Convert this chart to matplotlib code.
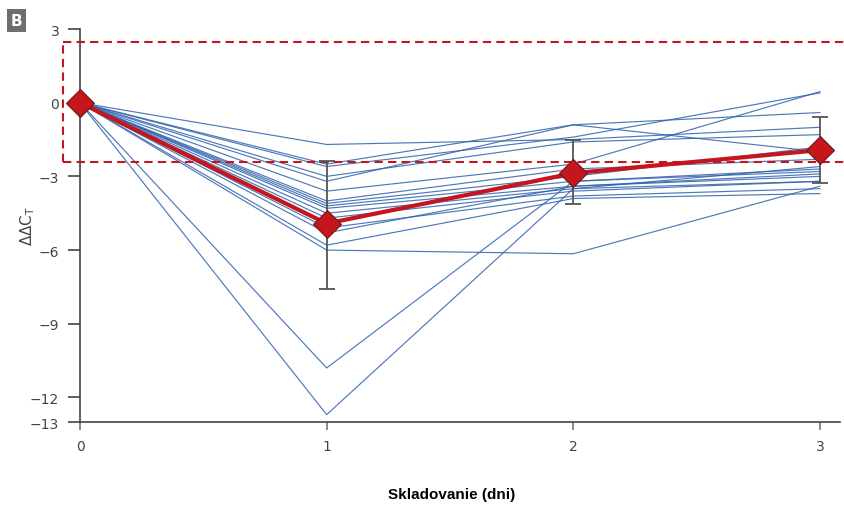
import numpy as np
import matplotlib

matplotlib.use('Agg')

import matplotlib.pyplot as plt

days = [0, 1, 2, 3]

# individual samples (ddCt at day 1, 2, 3; day 0 is always 0)
samples = [
    [-1.7, -1.5, -1.0],
    [-2.5, -0.9, -2.0],
    [-2.6, -1.4, 0.4],
    [-3.0, -1.6, -1.3],
    [-3.2, -0.9, -0.4],
    [-3.6, -2.5, 0.45],
    [-4.0, -2.7, -2.3],
    [-4.1, -3.0, -1.8],
    [-4.2, -3.2, -2.7],
    [-4.3, -3.4, -3.0],
    [-4.5, -3.5, -2.6],
    [-4.7, -3.6, -3.2],
    [-5.1, -3.8, -3.5],
    [-5.3, -3.4, -2.9],
    [-5.8, -3.9, -3.7],
    [-6.0, -6.15, -3.4],
    [-10.8, -3.2, -2.8],
    [-12.7, -3.5, -3.2],
]

mean_vals = [0, -4.92, -2.87, -1.93]
err_low = [0, -7.58, -4.14, -3.28]
err_high = [0, -2.38, -1.52, -0.57]

band = (-2.42, 2.46)

y_ticks = [3, 0, -3, -6, -9, -12, -13]

fig = plt.figure(figsize=(8.45, 5.06), dpi=100)
ax = fig.add_axes([0.0947, 0.164, 0.899, 0.7767])

for s in samples:
    ax.plot(days, [0] + s, color='#2f62ad', linewidth=0.85, alpha=0.85, zorder=2)

# dashed band
x0 = -0.069
dash = (0, (4, 2.5))
ax.plot([x0, 3.2], [band[1], band[1]], color='#c4161c', linestyle=dash,
        linewidth=1.5, clip_on=False, zorder=3)
ax.plot([x0, 3.2], [band[0], band[0]], color='#c4161c', linestyle=dash,
        linewidth=1.5, clip_on=False, zorder=3)
ax.plot([x0, x0], [band[0], band[1]], color='#c4161c', linestyle=dash,
        linewidth=1.5, clip_on=False, zorder=3)

mean = np.array(mean_vals)
lo = mean - np.array(err_low)
hi = np.array(err_high) - mean
ax.errorbar(days[1:], mean[1:], yerr=[lo[1:], hi[1:]], fmt='none', ecolor='#555555',
            elinewidth=1.3, capsize=6, capthick=1.3, zorder=4)
ax.plot(days, mean, color='#c4161c', linewidth=3, zorder=5)
ax.plot(days, mean, linestyle='none', marker='D', markersize=14,
        markerfacecolor='#c4161c', markeredgecolor='#6b1a1a', markeredgewidth=0.8,
        zorder=6, clip_on=False)

ax.set_xlim(0, 3.08)
ax.set_ylim(-13, 3)
ax.set_xticks(days)
ax.set_yticks(y_ticks)
ax.set_yticklabels([str(t).replace('-', '\u2212') for t in y_ticks])

for side in ['top', 'right']:
    ax.spines[side].set_visible(False)
for side in ['left', 'bottom']:
    ax.spines[side].set_color('#444444')
    ax.spines[side].set_linewidth(1.2)

ax.tick_params(axis='y', direction='out', length=9, width=1.2, color='#444444',
               labelsize=10, labelcolor='#444444', pad=6)
ax.tick_params(axis='x', direction='out', length=6, width=1.2, color='#777777',
               labelsize=10, labelcolor='#444444', pad=6)

fig.text(0.033, 0.553, r'$\Delta\Delta\mathrm{C}_\mathrm{T}$', rotation=90, ha='center',
         va='center', fontsize=11, color='#444444')
fig.text(0.535, 0.022, 'Skladovanie (dni)', ha='center', va='center',
         fontsize=11, fontweight='bold', family='Liberation Sans')

fig.text(0.0195, 0.958, 'B', ha='center', va='center', fontsize=11, color='white',
         fontweight='bold',
         bbox=dict(boxstyle='square,pad=0.25', facecolor='#6d6e70', edgecolor='none'))

plt.savefig('out.png', dpi=100)
plt.close(fig)
